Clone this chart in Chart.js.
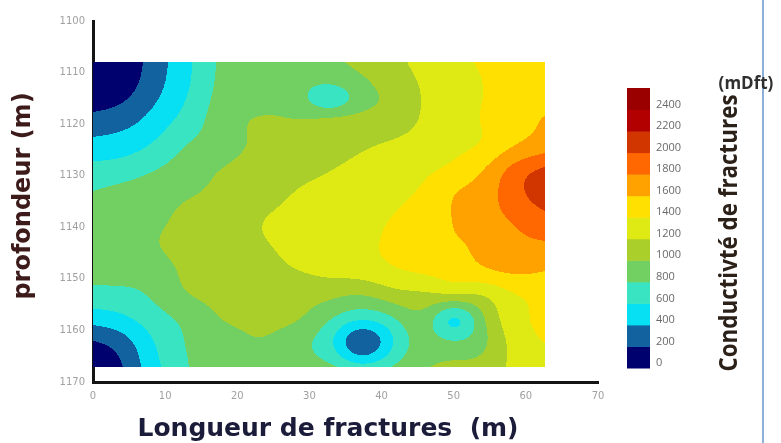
<!DOCTYPE html>
<html>
<head>
<meta charset="utf-8">
<script src="https://cdn.jsdelivr.net/npm/chart.js@4.4.1/dist/chart.umd.min.js"></script>
<style>
  html, body { margin: 0; padding: 0; background: #fff; }
</style>
</head>
<body>
<canvas id="contourChart" width="781" height="443"></canvas>
<script>
// grid: fracture length (m) x depth (m) -> conductivity (mDft)
const lengthsX = [0, 4, 8, 13, 18, 23, 28, 33, 37, 42, 46, 50, 54, 58, 62.7];
const depthsY  = [1108, 1112, 1115, 1119, 1124, 1129, 1133, 1138, 1143, 1148, 1153, 1158, 1162, 1167];
const conductivity = [
  [-150,  30, 264, 552, 840,  900,  880,  950, 1050, 1150, 1280, 1360, 1420, 1500, 1560],
  [ -30,  86, 294, 570, 854,  920,  880,  820,  950, 1100, 1230, 1320, 1400, 1480, 1550],
  [  88, 170, 346, 606, 870,  930,  900,  680,  900, 1060, 1220, 1310, 1400, 1500, 1550],
  [ 256, 312, 450, 680, 900, 1010, 1000, 1020, 1060, 1100, 1230, 1320, 1410, 1520, 1610],
  [ 464, 504, 608, 800, 900, 1050, 1100, 1120, 1170, 1230, 1290, 1360, 1420, 1580, 1700],
  [ 672, 704, 787, 900,1010, 1100, 1150, 1200, 1260, 1300, 1370, 1450, 1600, 1850, 2050],
  [ 800, 850, 900, 970,1040, 1100, 1200, 1250, 1290, 1360, 1430, 1580, 1700, 1900, 2150],
  [ 880, 900, 930,1050,1080, 1180, 1250, 1290, 1330, 1410, 1480, 1610, 1720, 1820, 1950],
  [ 880, 900, 970,1080,1100, 1180, 1240, 1300, 1350, 1450, 1530, 1580, 1650, 1750, 1790],
  [ 860, 870, 900,1040,1080, 1140, 1200, 1260, 1300, 1390, 1450, 1500, 1580, 1650, 1620],
  [ 740, 752, 820, 990,1050, 1100, 1090, 1050, 1010, 1130, 1170, 1190, 1220, 1380, 1450],
  [ 462, 537, 690, 850,1000, 1050, 1010,  790,  600,  790,  900,  580,  960, 1300, 1450],
  [ 200, 325, 575, 810, 900,  990,  880,  630,  250,  640,  880,  800,  950, 1250, 1410],
  [-120, 190, 500, 790, 880,  920,  870,  830,  680,  830,  980, 1040, 1080, 1230, 1340]
];

// contour levels and their fill colours (bottom band first)
const levels = [0, 200, 400, 600, 800, 1000, 1200, 1400, 1600, 1800, 2000, 2200, 2400, 2600];
const bandColors = ["#00006e", "#1262a0", "#06e0f2", "#38e4c2", "#72d062", "#aace2a", "#dfe914",
                    "#ffe000", "#ffa200", "#ff6800", "#d23600", "#b20000", "#9a0000"];
const levelLabels = ["0", "200", "400", "600", "800", "1000", "1200", "1400", "1600", "1800", "2000", "2200", "2400"];

const xTicks = [0, 10, 20, 30, 40, 50, 60, 70];
const yTicks = [1100, 1110, 1120, 1130, 1140, 1150, 1160, 1170];

function hexToRgb(h) {
  const n = parseInt(h.slice(1), 16);
  return [(n >> 16) & 255, (n >> 8) & 255, n & 255];
}
const bandRgb = bandColors.map(hexToRgb);

// natural cubic spline: second derivatives
function splineD2(xs, ys) {
  const n = xs.length, d2 = new Array(n).fill(0), u = new Array(n).fill(0);
  for (let i = 1; i < n - 1; i++) {
    const sig = (xs[i] - xs[i - 1]) / (xs[i + 1] - xs[i - 1]);
    const p = sig * d2[i - 1] + 2;
    d2[i] = (sig - 1) / p;
    const du = (ys[i + 1] - ys[i]) / (xs[i + 1] - xs[i]) - (ys[i] - ys[i - 1]) / (xs[i] - xs[i - 1]);
    u[i] = (6 * du / (xs[i + 1] - xs[i - 1]) - sig * u[i - 1]) / p;
  }
  d2[n - 1] = 0;
  for (let k = n - 2; k >= 0; k--) d2[k] = d2[k] * d2[k + 1] + u[k];
  return d2;
}

function splineAt(xs, ys, d2, x) {
  let lo = 0, hi = xs.length - 1;
  x = Math.max(xs[0], Math.min(xs[hi], x));
  while (hi - lo > 1) {
    const k = (hi + lo) >> 1;
    if (xs[k] > x) hi = k; else lo = k;
  }
  const h = xs[hi] - xs[lo], a = (xs[hi] - x) / h, b = (x - xs[lo]) / h;
  return a * ys[lo] + b * ys[hi] + ((a * a * a - a) * d2[lo] + (b * b * b - b) * d2[hi]) * h * h / 6;
}

function bandIndex(v) {
  for (let i = 1; i < levels.length; i++) {
    if (v < levels[i]) return i - 1;
  }
  return bandColors.length - 1;
}

const contourPlugin = {
  id: "contourFill",
  beforeDatasetsDraw(chart) {
    const ctx = chart.ctx;
    const xs = chart.scales.x, ys = chart.scales.y;
    const left = Math.round(xs.getPixelForValue(lengthsX[0]));
    const right = Math.round(xs.getPixelForValue(lengthsX[lengthsX.length - 1]));
    const top = Math.round(ys.getPixelForValue(depthsY[0]));
    const bottom = Math.round(ys.getPixelForValue(depthsY[depthsY.length - 1]));
    const w = right - left, h = bottom - top;

    const colX = [];
    for (let px = 0; px < w; px++) colX.push(xs.getValueForPixel(left + px + 0.5));
    const rowY = [];
    for (let py = 0; py < h; py++) rowY.push(ys.getValueForPixel(top + py + 0.5));

    // splines along each row, then down each pixel column
    const rowVals = conductivity.map(row => {
      const d2 = splineD2(lengthsX, row);
      return colX.map(x => splineAt(lengthsX, row, d2, x));
    });

    const off = document.createElement("canvas");
    off.width = w; off.height = h;
    const octx = off.getContext("2d");
    const img = octx.createImageData(w, h);
    for (let px = 0; px < w; px++) {
      const column = rowVals.map(r => r[px]);
      const d2 = splineD2(depthsY, column);
      for (let py = 0; py < h; py++) {
        const c = bandRgb[bandIndex(splineAt(depthsY, column, d2, rowY[py]))];
        const o = (py * w + px) * 4;
        img.data[o] = c[0]; img.data[o + 1] = c[1]; img.data[o + 2] = c[2]; img.data[o + 3] = 255;
      }
    }
    octx.putImageData(img, 0, 0);
    ctx.drawImage(off, left, top);
  },
  afterDraw(chart) {
    const ctx = chart.ctx;
    const area = chart.chartArea;
    ctx.save();

    // axis titles
    ctx.textAlign = "center";
    ctx.textBaseline = "middle";
    ctx.fillStyle = "#1b1b3a";
    ctx.font = "bold 25px 'DejaVu Sans'";
    ctx.fillText("Longueur de fractures  (m)", 328, 429);
    ctx.save();
    ctx.translate(24, 196);
    ctx.rotate(-Math.PI / 2);
    ctx.fillStyle = "#3d1b1b";
    ctx.font = "bold 24px 'DejaVu Sans'";
    ctx.fillText("profondeur (m)", 0, 0);
    ctx.restore();

    // colour bar
    const cbLeft = area.right + 29, cbWidth = 23, cbTop = 88, cbBottom = 368;
    const bandH = (cbBottom - cbTop) / bandColors.length;
    bandColors.forEach((c, i) => {
      ctx.fillStyle = c;
      ctx.fillRect(cbLeft, cbBottom - (i + 1) * bandH, cbWidth, bandH + 0.5);
    });
    ctx.fillStyle = "#6a6a6a";
    ctx.font = "11px 'Open Sans'";
    ctx.textAlign = "left";
    levelLabels.forEach((t, i) => {
      ctx.fillText(t, cbLeft + cbWidth + 6, cbBottom - i * bandH - 5);
    });

    // thin blue line at the right
    ctx.strokeStyle = "#8db0da";
    ctx.lineWidth = 2;
    ctx.beginPath();
    ctx.moveTo(763, 0);
    ctx.lineTo(763, chart.height);
    ctx.stroke();

    // unit and colour bar title
    ctx.fillStyle = "#2f2f2f";
    ctx.font = "bold 17px 'Open Sans'";
    ctx.textAlign = "center";
    ctx.fillText("(mDft)", 746, 84);

    const title = "Conductivté de fractures";
    ctx.font = "bold 25px 'Open Sans'";
    const tw = ctx.measureText(title).width;
    ctx.translate(730, 233);
    ctx.rotate(-Math.PI / 2);
    ctx.scale(277 / tw, 1);
    ctx.fillStyle = "#2c2119";
    ctx.fillText(title, 0, 0);
    ctx.restore();
  }
};

const gridPoints = [];
depthsY.forEach((y, r) => lengthsX.forEach((x, c) => gridPoints.push({ x: x, y: y, v: conductivity[r][c] })));

new Chart(document.getElementById("contourChart"), {
  type: "scatter",
  data: {
    datasets: [{ data: gridPoints, pointRadius: 0, pointHoverRadius: 0 }]
  },
  options: {
    responsive: false,
    animation: false,
    layout: { padding: { left: 0, top: 21, right: 183, bottom: 0 } },
    plugins: { legend: { display: false }, tooltip: { enabled: false } },
    scales: {
      x: {
        type: "linear", min: 0, max: 70, z: 1,
        afterBuildTicks: s => { s.ticks = xTicks.map(v => ({ value: v })); },
        afterFit: s => { s.height = 61; },
        grid: { display: false, drawTicks: false },
        border: { display: true, color: "#141414", width: 3 },
        ticks: { padding: 8, color: "#a0a0a0", font: { family: "DejaVu Sans", size: 10 }, callback: v => String(v) }
      },
      y: {
        type: "linear", min: 1100, max: 1170, reverse: true, z: 1,
        afterBuildTicks: s => { s.ticks = yTicks.map(v => ({ value: v })); },
        afterFit: s => { s.width = 93; },
        grid: { display: false, drawTicks: false },
        border: { display: true, color: "#141414", width: 3 },
        ticks: { padding: 8, color: "#a0a0a0", font: { family: "DejaVu Sans", size: 10 }, callback: v => String(v) }
      }
    }
  },
  plugins: [contourPlugin]
});
</script>
</body>
</html>
